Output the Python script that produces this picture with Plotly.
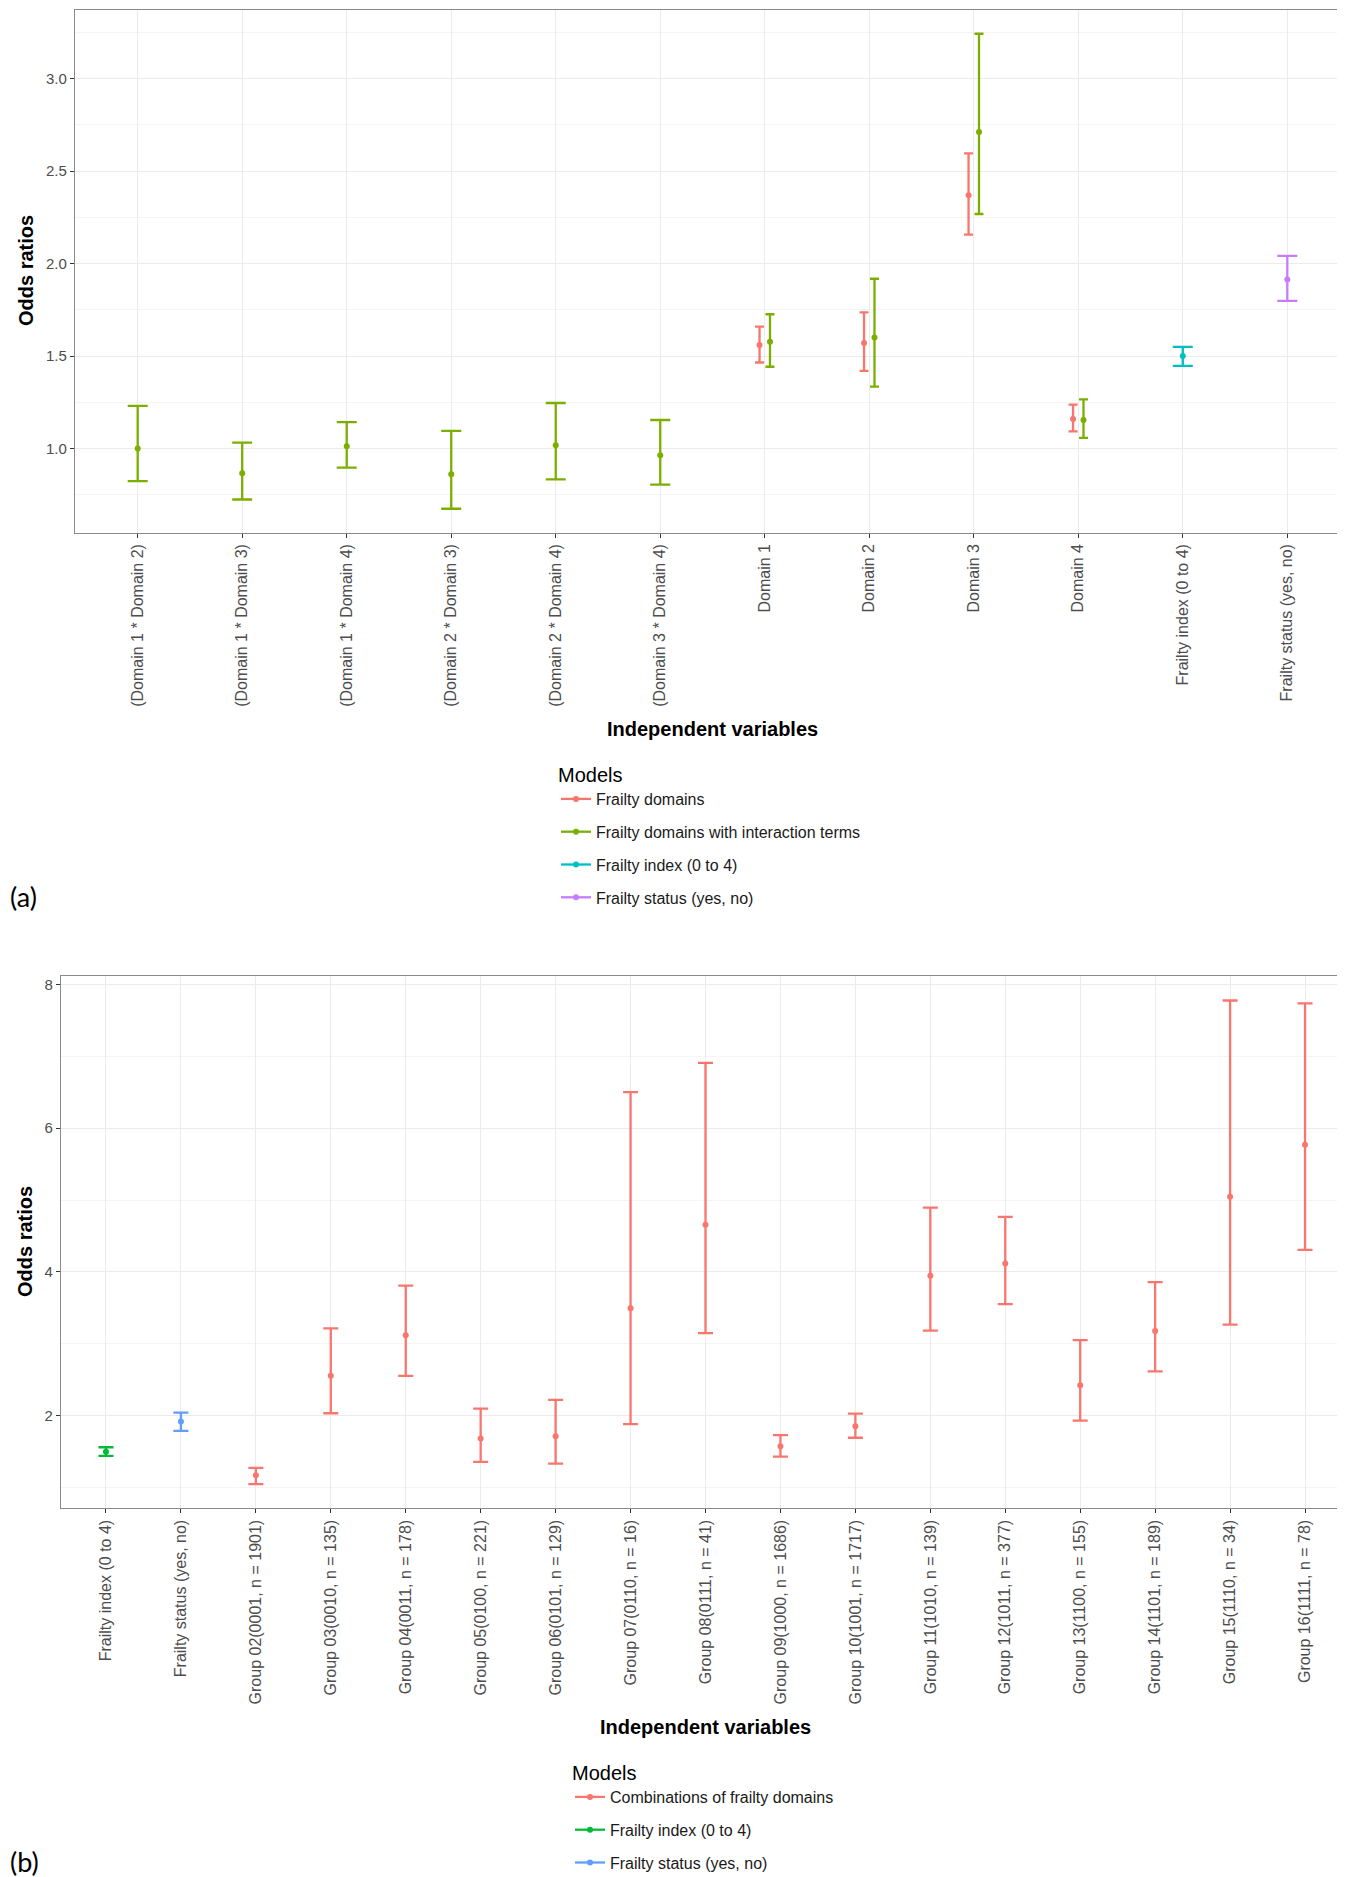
import plotly.graph_objects as go

W, H = 1345, 1877
FONT = "Liberation Sans, Arial, sans-serif"

# ---------------- Panel (a) data ----------------
cats_a = ["(Domain 1 * Domain 2)", "(Domain 1 * Domain 3)", "(Domain 1 * Domain 4)",
          "(Domain 2 * Domain 3)", "(Domain 2 * Domain 4)", "(Domain 3 * Domain 4)",
          "Domain 1", "Domain 2", "Domain 3", "Domain 4",
          "Frailty index (0 to 4)", "Frailty status (yes, no)"]

fd_cats = ["Domain 1", "Domain 2", "Domain 3", "Domain 4"]
fd_or = [1.56, 1.57, 2.37, 1.16]
fd_lo = [1.465, 1.42, 2.157, 1.092]
fd_hi = [1.659, 1.736, 2.596, 1.237]

fdi_cats = ["(Domain 1 * Domain 2)", "(Domain 1 * Domain 3)", "(Domain 1 * Domain 4)",
            "(Domain 2 * Domain 3)", "(Domain 2 * Domain 4)", "(Domain 3 * Domain 4)",
            "Domain 1", "Domain 2", "Domain 3", "Domain 4"]
fdi_or = [1.00, 0.866, 1.012, 0.86, 1.018, 0.964, 1.577, 1.60, 2.712, 1.154]
fdi_lo = [0.823, 0.724, 0.896, 0.674, 0.833, 0.805, 1.442, 1.334, 2.268, 1.057]
fdi_hi = [1.23, 1.032, 1.143, 1.095, 1.246, 1.154, 1.726, 1.918, 3.243, 1.266]

fi_a_cats = ["Frailty index (0 to 4)"]
fi_a_or = [1.50]
fi_a_lo = [1.447]
fi_a_hi = [1.55]

fs_a_cats = ["Frailty status (yes, no)"]
fs_a_or = [1.914]
fs_a_lo = [1.798]
fs_a_hi = [2.042]

# ---------------- Panel (b) data ----------------
cats_b = ["Frailty index (0 to 4)", "Frailty status (yes, no)",
          "Group 02(0001, n = 1901)", "Group 03(0010, n = 135)", "Group 04(0011, n = 178)",
          "Group 05(0100, n = 221)", "Group 06(0101, n = 129)", "Group 07(0110, n = 16)",
          "Group 08(0111, n = 41)", "Group 09(1000, n = 1686)", "Group 10(1001, n = 1717)",
          "Group 11(1010, n = 139)", "Group 12(1011, n = 377)", "Group 13(1100, n = 155)",
          "Group 14(1101, n = 189)", "Group 15(1110, n = 34)", "Group 16(1111, n = 78)"]

comb_cats = cats_b[2:]
comb_or = [1.17, 2.554, 3.118, 1.682, 1.712, 3.493, 4.655, 1.575, 1.853, 3.945, 4.116,
           2.422, 3.177, 5.045, 5.77]
comb_lo = [1.047, 2.033, 2.554, 1.356, 1.332, 1.882, 3.148, 1.43, 1.692, 3.182, 3.551,
           1.93, 2.617, 3.267, 4.306]
comb_hi = [1.274, 3.215, 3.81, 2.097, 2.218, 6.501, 6.909, 1.73, 2.028, 4.894, 4.764,
           3.05, 3.858, 7.776, 7.737]

fi_b_cats = ["Frailty index (0 to 4)"]
fi_b_or = [1.497]
fi_b_lo = [1.44]
fi_b_hi = [1.56]

fs_b_cats = ["Frailty status (yes, no)"]
fs_b_or = [1.917]
fs_b_lo = [1.789]
fs_b_hi = [2.043]

series_a = [
    ("Frailty domains", "#F8766D", fd_cats, fd_or, fd_lo, fd_hi),
    ("Frailty domains with interaction terms", "#7CAE00", fdi_cats, fdi_or, fdi_lo, fdi_hi),
    ("Frailty index (0 to 4)", "#00BFC4", fi_a_cats, fi_a_or, fi_a_lo, fi_a_hi),
    ("Frailty status (yes, no)", "#C77CFF", fs_a_cats, fs_a_or, fs_a_lo, fs_a_hi),
]
series_b = [
    ("Combinations of frailty domains", "#F8766D", comb_cats, comb_or, comb_lo, comb_hi),
    ("Frailty index (0 to 4)", "#00BA38", fi_b_cats, fi_b_or, fi_b_lo, fi_b_hi),
    ("Frailty status (yes, no)", "#619CFF", fs_b_cats, fs_b_or, fs_b_lo, fs_b_hi),
]

fig = go.Figure()


def add_panel(series, cats, xa, ya, legend_name, dodge, full_cap, small_cap):
    for si, (name, color, cs, ors, los, his) in enumerate(series):
        xs, caps = [], []
        for c in cs:
            members = [k for k, s in enumerate(series) if c in s[2]]
            n = len(members)
            pos = members.index(si)
            xs.append(cats.index(c) + (pos - (n - 1) / 2) * dodge)
            caps.append(small_cap if n > 1 else full_cap)
        for cw in sorted(set(caps)):
            idx = [i for i, cc in enumerate(caps) if cc == cw]
            fig.add_trace(go.Scatter(
                x=[xs[i] for i in idx], y=[ors[i] for i in idx],
                mode="markers", xaxis=xa, yaxis=ya, showlegend=False,
                marker=dict(color=color, size=6),
                error_y=dict(type="data", symmetric=False,
                             array=[his[i] - ors[i] for i in idx],
                             arrayminus=[ors[i] - los[i] for i in idx],
                             color=color, thickness=2.3, width=cw),
                hovertemplate=name + "<br>%{y:.2f}<extra></extra>"))
        fig.add_trace(go.Scatter(
            x=[None], y=[None], mode="lines+markers", name=name, xaxis=xa, yaxis=ya,
            legend=legend_name, legendgroup=legend_name + name,
            line=dict(color=color, width=2.3), marker=dict(color=color, size=6)))


add_panel(series_a, cats_a, "x", "y", "legend", 0.1, 10, 4.5)
add_panel(series_b, cats_b, "x2", "y2", "legend2", 0.1, 7.5, 4)


def yrange(series):
    lo = min(min(s[4]) for s in series)
    hi = max(max(s[5]) for s in series)
    e = (hi - lo) * 0.05
    return [lo - e, hi + e]


axis_common = dict(showline=True, mirror=True, linecolor="#8A8A8A", linewidth=1.3,
                   zeroline=False, showgrid=True, gridcolor="#EBEBEB", gridwidth=1.2,
                   ticks="outside", ticklen=4, tickwidth=1.2, tickcolor="#333333",
                   tickfont=dict(family=FONT, size=15, color="#4D4D4D"))

legend_common = dict(xanchor="left", yanchor="top",
                     title=dict(text="Models", font=dict(family=FONT, size=20, color="#000000")),
                     font=dict(family=FONT, size=16, color="#1A1A1A"),
                     tracegroupgap=9, bgcolor="rgba(0,0,0,0)", traceorder="grouped")

fig.update_layout(
    width=W, height=H, margin=dict(l=0, r=0, t=0, b=0),
    paper_bgcolor="white", plot_bgcolor="white",
    font=dict(family=FONT),
    xaxis=dict(axis_common, domain=[67 / W, 1342 / W], anchor="y",
               range=[-0.6, len(cats_a) - 0.4], tickmode="array",
               tickvals=list(range(len(cats_a))), ticktext=cats_a, tickangle=-90,
               tickfont=dict(family=FONT, size=16, color="#4D4D4D")),
    yaxis=dict(axis_common, domain=[1 - 524.5 / H, 1 - 2 / H], anchor="x",
               range=yrange(series_a), tick0=0, dtick=0.5, tickformat=".1f",
               minor=dict(dtick=0.25, tick0=0, showgrid=True, gridcolor="#F4F4F4",
                          gridwidth=1, ticks="")),
    xaxis2=dict(axis_common, domain=[53 / W, 1342 / W], anchor="y2",
                range=[-0.6, len(cats_b) - 0.4], tickmode="array",
                tickvals=list(range(len(cats_b))), ticktext=cats_b, tickangle=-90,
                tickfont=dict(family=FONT, size=16, color="#4D4D4D")),
    yaxis2=dict(axis_common, domain=[1 - 1500.3 / H, 1 - 968.3 / H], anchor="x2",
                range=yrange(series_b), tick0=0, dtick=2,
                minor=dict(dtick=1, tick0=0, showgrid=True, gridcolor="#F4F4F4",
                           gridwidth=1, ticks="")),
    legend=dict(legend_common, x=548 / W, y=1 - 748 / H),
    legend2=dict(legend_common, x=562 / W, y=1 - 1746 / H),
)

ann = dict(xref="paper", yref="paper", showarrow=False)
fig.add_annotation(ann, x=704 / W, y=1 - 721 / H, text="<b>Independent variables</b>",
                   font=dict(family=FONT, size=20, color="#000"), xanchor="center", yanchor="middle")
fig.add_annotation(ann, x=697 / W, y=1 - 1719 / H, text="<b>Independent variables</b>",
                   font=dict(family=FONT, size=20, color="#000"), xanchor="center", yanchor="middle")
fig.add_annotation(ann, x=18 / W, y=1 - 263 / H, text="<b>Odds ratios</b>", textangle=-90,
                   font=dict(family=FONT, size=20, color="#000"), xanchor="center", yanchor="middle")
fig.add_annotation(ann, x=17 / W, y=1 - 1234 / H, text="<b>Odds ratios</b>", textangle=-90,
                   font=dict(family=FONT, size=20, color="#000"), xanchor="center", yanchor="middle")
fig.add_annotation(ann, x=0, y=1 - 888 / H, text="(a)", xanchor="left", yanchor="middle",
                   font=dict(family="Lato, Open Sans, sans-serif", size=27, color="#000"))
fig.add_annotation(ann, x=0, y=1 - 1853 / H, text="(b)", xanchor="left", yanchor="middle",
                   font=dict(family="Lato, Open Sans, sans-serif", size=27, color="#000"))

fig.write_html("out.html")
